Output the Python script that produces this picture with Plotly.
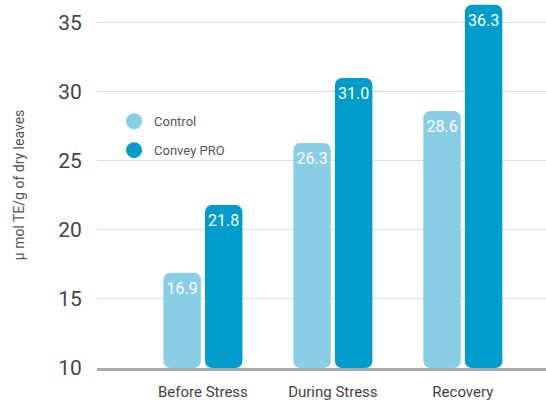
import plotly.graph_objects as go

categories = ["Before Stress", "During Stress", "Recovery"]
control = [16.9, 26.3, 28.6]
convey_pro = [21.8, 31.0, 36.3]
y_ticks = [10, 15, 20, 25, 30, 35]

c_light = "#89CDE6"
c_dark = "#009CCB"
font_family = "Roboto, 'Open Sans', sans-serif"

fig = go.Figure()
fig.add_trace(go.Bar(
    x=categories, y=[v - 10 for v in control], base=10, name="Control",
    marker=dict(color=c_light, cornerradius=7, line=dict(width=0)),
    text=[f"{v:.1f}" for v in control], textposition="inside", insidetextanchor="end",
    textfont=dict(color="white", size=16, family=font_family),
    showlegend=False, hoverinfo="skip",
))
fig.add_trace(go.Bar(
    x=categories, y=[v - 10 for v in convey_pro], base=10, name="Convey PRO",
    marker=dict(color=c_dark, cornerradius=7, line=dict(width=0)),
    text=[f"{v:.1f}" for v in convey_pro], textposition="inside", insidetextanchor="end",
    textfont=dict(color="white", size=16, family=font_family),
    showlegend=False, hoverinfo="skip",
))
# legend entries with circle markers
fig.add_trace(go.Scatter(x=[None], y=[None], mode="markers", name="Control",
                         marker=dict(color=c_light, size=18, symbol="circle"),
                         legendgroup="a", showlegend=True))
fig.add_trace(go.Scatter(x=[None], y=[None], mode="markers", name="Convey PRO",
                         marker=dict(color=c_dark, size=18, symbol="circle"),
                         legendgroup="b", showlegend=True))

fig.update_layout(
    width=546, height=402,
    margin=dict(l=97, r=0, t=2, b=34),
    paper_bgcolor="white", plot_bgcolor="white",
    barmode="group", bargap=0.36, bargroupgap=0.1,
    font=dict(family=font_family, color="#444"),
    uniformtext=dict(mode="show", minsize=10),
    legend=dict(x=0.038, y=0.715, xanchor="left", yanchor="top",
                font=dict(size=13, color="#555"), tracegroupgap=9,
                bgcolor="rgba(0,0,0,0)"),
    xaxis=dict(
        type="category", range=[-0.815, 2.64], automargin=False,
        showgrid=False, zeroline=False,
        showline=True, linecolor="#AAAAAA", linewidth=3,
        ticks="outside", ticklen=8, tickcolor="rgba(0,0,0,0)",
        tickfont=dict(size=15, color="#444"),
    ),
    yaxis=dict(
        range=[10, 36.5], tickvals=y_ticks, automargin=False,
        showgrid=True, gridcolor="#DDDDDD", gridwidth=1,
        zeroline=False, showline=False,
        ticks="outside", ticklen=10, tickcolor="rgba(0,0,0,0)",
        tickfont=dict(size=21, color="#444"),
        title=dict(text="μ mol TE/g of dry leaves", font=dict(size=14, color="#555"), standoff=30),
    ),
)

fig.write_html("out.html", config={"displayModeBar": False},
               post_script="document.body.style.margin='0';")
